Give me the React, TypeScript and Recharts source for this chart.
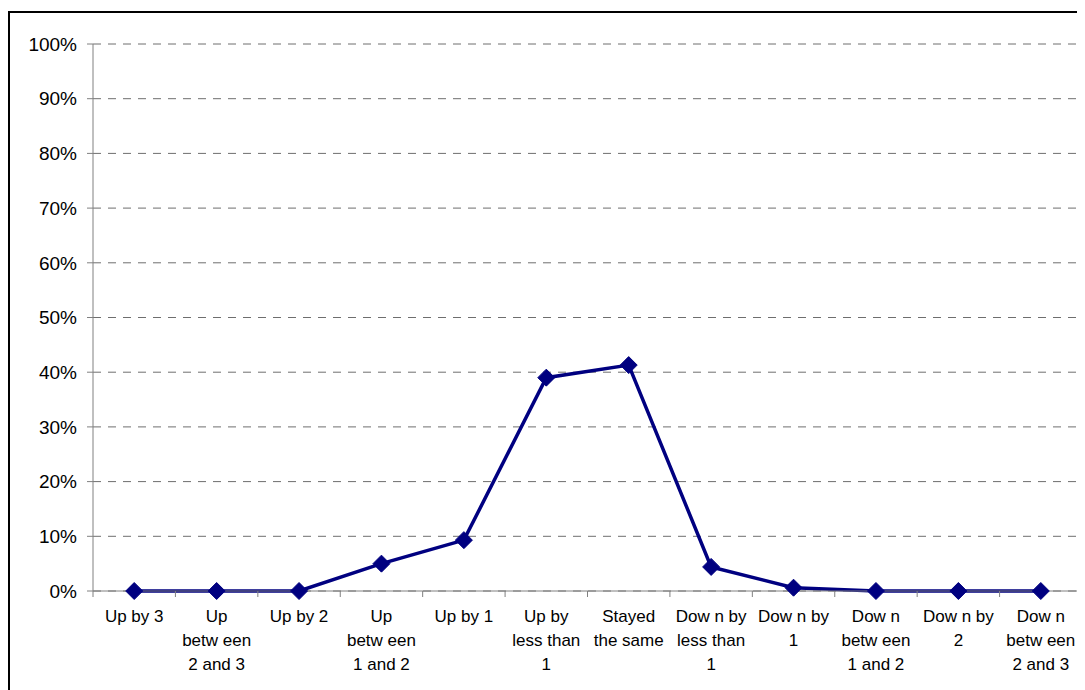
import { LineChart, Line, XAxis, YAxis, CartesianGrid } from 'recharts';

const categories = [
  'Up by 3',
  'Up\nbetw een\n2 and 3',
  'Up by 2',
  'Up\nbetw een\n1 and 2',
  'Up by 1',
  'Up by\nless than\n1',
  'Stayed\nthe same',
  'Dow n by\nless than\n1',
  'Dow n by\n1',
  'Dow n\nbetw een\n1 and 2',
  'Dow n by\n2',
  'Dow n\nbetw een\n2 and 3',
];
const shares = [0, 0, 0, 5.0, 9.3, 39.0, 41.3, 4.4, 0.6, 0, 0, 0];
const yTicks = [0, 10, 20, 30, 40, 50, 60, 70, 80, 90, 100];

const data = categories.map((name, i) => ({ name, value: shares[i] }));

const FONT = '"Liberation Sans", Arial, sans-serif';
const NAVY = '#000080';
const GREY = '#808080';

const CHART_W = 1077;
const CHART_H = 682;
const Y_AXIS_W = 85;
const MARGIN = { top: 36, right: 3, bottom: 0, left: 0 };
// half a category band, used when the tick payload has no offset
const HALF_BAND = (CHART_W - Y_AXIS_W - MARGIN.right - MARGIN.left) / categories.length / 2;

const CategoryTick = (props: any) => {
  const { x, y, payload, index, visibleTicksCount } = props;
  const half = payload?.offset > 1 ? payload.offset : HALF_BAND;
  const lines = String(payload.value).split('\n');
  const axisY = y - 8;
  return (
    <g>
      <line x1={x - half} y1={axisY} x2={x - half} y2={axisY + 6} stroke={GREY} />
      {index === visibleTicksCount - 1 && (
        <line x1={x + half} y1={axisY} x2={x + half} y2={axisY + 6} stroke={GREY} />
      )}
      <text x={x} y={axisY + 31} textAnchor="middle" fontSize={17} fill="#000" fontFamily={FONT}>
        {lines.map((l, i) => (
          <tspan key={i} x={x} dy={i === 0 ? 0 : 24}>{l}</tspan>
        ))}
      </text>
    </g>
  );
};

const Diamond = (props: any) => {
  const { cx, cy } = props;
  if (cx == null || cy == null) return null;
  const r = 8.5;
  return (
    <polygon
      points={`${cx},${cy - r} ${cx + r},${cy} ${cx},${cy + r} ${cx - r},${cy}`}
      fill={NAVY}
      stroke={NAVY}
    />
  );
};

export default function App() {
  return (
    <div style={{ position: 'relative', width: CHART_W, height: CHART_H, overflow: 'hidden', fontFamily: FONT }}>
      <div
        style={{
          position: 'absolute',
          left: 0,
          top: 3,
          width: 1200,
          height: 900,
          border: '2px solid #000',
          boxSizing: 'border-box',
        }}
      />
      <div style={{ position: 'absolute', left: 0, top: 0 }}>
        <LineChart width={CHART_W} height={CHART_H} data={data} margin={MARGIN}>
          <CartesianGrid vertical={false} stroke="#6e6e6e" strokeDasharray="8 7" />
          <XAxis
            dataKey="name"
            scale="band"
            interval={0}
            height={99}
            tickLine={false}
            axisLine={{ stroke: GREY }}
            tick={<CategoryTick />}
          />
          <YAxis
            width={Y_AXIS_W}
            domain={[0, 100]}
            ticks={yTicks}
            interval={0}
            tickFormatter={(v: number) => `${v}%`}
            axisLine={{ stroke: GREY }}
            tickLine={{ stroke: GREY }}
            tickSize={6}
            tickMargin={10}
            tick={{ fontSize: 19, fill: '#000', fontFamily: FONT }}
          />
          <Line
            dataKey="value"
            stroke={NAVY}
            strokeWidth={3.5}
            dot={<Diamond />}
            activeDot={false}
            isAnimationActive={false}
          />
        </LineChart>
      </div>
    </div>
  );
}
